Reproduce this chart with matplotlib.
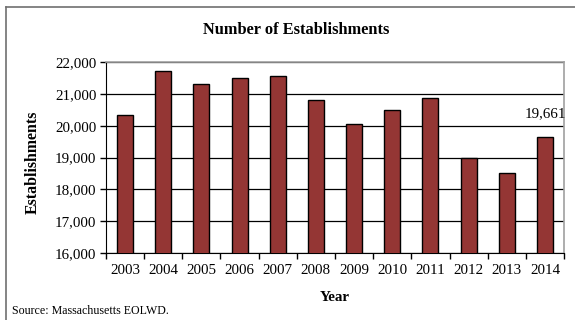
import matplotlib.pyplot as plt
from matplotlib.lines import Line2D
import numpy as np

years = ['2003', '2004', '2005', '2006', '2007', '2008',
         '2009', '2010', '2011', '2012', '2013', '2014']
establishments = [20340, 21710, 21300, 21490, 21570, 20810,
                  20050, 20490, 20870, 18980, 18530, 19661]
y_ticks = [16000, 17000, 18000, 19000, 20000, 21000, 22000]

plt.rcParams['font.family'] = ['Liberation Serif', 'DejaVu Serif']

fig = plt.figure(figsize=(5.75, 3.2), dpi=100)
ax = fig.add_axes([0.1843, 0.209, 0.7967, 0.597])

x = np.arange(len(years))
ax.bar(x, establishments, width=0.42, color='#943634', edgecolor='black',
       linewidth=1.0, zorder=3)

ax.set_ylim(16000, 22000)
ax.set_xlim(-0.5, len(years) - 0.5)
ax.set_yticks(y_ticks)
ax.set_yticklabels([f'{v:,}' for v in y_ticks], fontsize=10.8)
ax.set_xticks(x)
ax.set_xticklabels(years, fontsize=10.8)
ax.set_xticks(np.arange(-0.5, len(years), 1), minor=True)
ax.tick_params(axis='x', which='major', length=0, pad=8)
ax.tick_params(axis='x', which='minor', length=4, width=1, direction='out')
ax.tick_params(axis='y', length=4, width=1, direction='out', pad=3)

ax.yaxis.grid(True, color='black', linewidth=0.9, zorder=0)
ax.set_axisbelow(True)

for side in ['top', 'right']:
    ax.spines[side].set_color('#a0a0a0')
    ax.spines[side].set_linewidth(1.2)
ax.spines['left'].set_color('black')
ax.spines['bottom'].set_color('black')

ax.set_xlabel('Year', fontsize=10.8, fontweight='bold', labelpad=10)
ax.set_ylabel('Establishments', fontsize=11.4, fontweight='bold')
ax.yaxis.set_label_coords(-0.142, 0.476)

# value label for the last year
ax.annotate(f'{establishments[-1]:,}', (x[-1], establishments[-1]),
            xytext=(0, 12), textcoords='offset points', ha='center',
            va='bottom', fontsize=10.8)

fig.text(0.515, 0.905, 'Number of Establishments', ha='center', va='center',
         fontsize=11.8, fontweight='bold')
fig.text(0.02, 0.028, 'Source: Massachusetts EOLWD.', ha='left', va='center',
         fontsize=8.6)

# outer frame (top and left edges)
fig.add_artist(Line2D([0.0104, 1.0], [0.978, 0.978], color='#707070',
                      linewidth=1.2, transform=fig.transFigure))
fig.add_artist(Line2D([0.0104, 0.0104], [0.0, 0.978], color='#707070',
                      linewidth=1.2, transform=fig.transFigure))

fig.savefig('out.png', dpi=100)
